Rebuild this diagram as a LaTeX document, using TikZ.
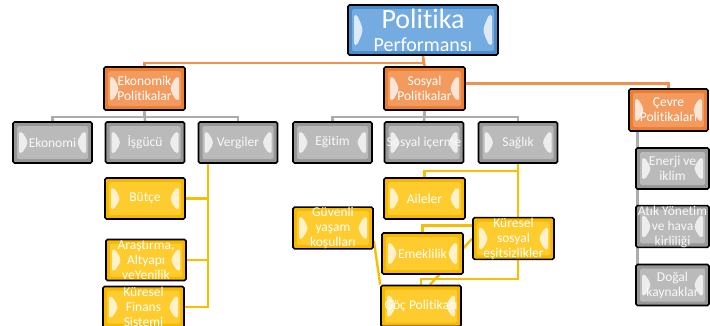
\documentclass[tikz,border=0pt]{standalone}
\usepackage{fontspec}
\setmainfont{Carlito}[Ligatures=NoCommon]
\usetikzlibrary{backgrounds}

\definecolor{turuncu}{HTML}{ED7D31}
\definecolor{turuncuic}{HTML}{F39A5E}
\definecolor{gri}{HTML}{979797}
\definecolor{griic}{HTML}{BABABA}
\definecolor{sari}{HTML}{F7B800}
\definecolor{sariic}{HTML}{FFCC30}
\definecolor{mavi}{HTML}{4A8BCB}
\definecolor{maviic}{HTML}{74ABE0}

\tikzset{
  ic renk/.store in=\icrenk, ic renk=white,
  kutu/.style={draw=black, line width=1.6pt, rounded corners=1.5pt,
    minimum width=79pt, minimum height=41pt, inner xsep=1pt, inner ysep=0pt,
    align=center, text=white, font=\fontsize{13.5}{15}\selectfont,
    path picture={
      \fill[\icrenk] ([shift={(4pt,-4pt)}]path picture bounding box.north west)
        rectangle ([shift={(-4pt,4pt)}]path picture bounding box.south east);
      \fill[white, opacity=0.75] ([shift={(6pt,-10pt)}]path picture bounding box.north west)
        -- ([shift={(9pt,-10pt)}]path picture bounding box.north west)
        .. controls ([xshift=16pt]path picture bounding box.west)
        .. ([shift={(9pt,10pt)}]path picture bounding box.south west)
        -- ([shift={(6pt,10pt)}]path picture bounding box.south west) -- cycle;
      \fill[white, opacity=0.75] ([shift={(-6pt,-10pt)}]path picture bounding box.north east)
        -- ([shift={(-9pt,-10pt)}]path picture bounding box.north east)
        .. controls ([xshift=-16pt]path picture bounding box.east)
        .. ([shift={(-9pt,10pt)}]path picture bounding box.south east)
        -- ([shift={(-6pt,10pt)}]path picture bounding box.south east) -- cycle;
    }},
  grikutu/.style={kutu, fill=gri, ic renk=griic, text=white!95!gray},
  turuncukutu/.style={kutu, fill=turuncu, ic renk=turuncuic},
  sarikutu/.style={kutu, fill=sari, ic renk=sariic},
  mavikutu/.style={kutu, fill=mavi, ic renk=maviic},
  turuncucizgi/.style={line width=2.6pt, turuncu!85!white},
  gricizgi/.style={line width=2.6pt, gri!80!white},
  saricizgi/.style={line width=2.4pt, sari!90!yellow},
}

\begin{document}
\begin{tikzpicture}[x=1pt, y=-1pt]
    \useasboundingbox (0,0) rectangle (710,325);

    % Nodo principal
    \node[mavikutu, minimum width=150pt, minimum height=50pt, font=\fontsize{20}{23}\selectfont] (pp) at (423,30)
      {{\fontsize{28}{28}\selectfont Politika}\\Performansı};

    % Politicas
    \node[turuncukutu, minimum width=81pt, minimum height=43pt] (eko) at (144.5,88.5) {Ekonomik\\Politikalar};
    \node[turuncukutu, minimum width=81pt, minimum height=43pt] (sos) at (424.5,88.5) {Sosyal\\Politikalar};
    \node[turuncukutu, minimum width=79pt, minimum height=42pt] (cev) at (668.5,110) {Çevre\\Politikaları};

    % Fila gris
    \node[grikutu] (ekonomi) at (52.5,142.5) {Ekonomi};
    \node[grikutu] (isgucu) at (145,142.5) {İşgücü};
    \node[grikutu] (vergi) at (238,142.5) {Vergiler};
    \node[grikutu] (egitim) at (332.5,142.5) {Eğitim};
    \node[grikutu] (icerme) at (424,142.5) {Sosyal içerme};
    \node[grikutu] (saglik) at (518,142.5) {Sağlık};

    % Hijos de Cevre
    \node[grikutu, minimum width=73pt] (enerji) at (672.5,168.5) {Enerji ve\\iklim};
    \node[grikutu, minimum width=73pt] (atik) at (672.5,226.5) {Atık Yönetim\\ve hava\\kirliliği};
    \node[grikutu, minimum width=73pt] (dogal) at (672.5,285) {Doğal\\kaynaklar};

    % Hijos de Vergiler
    \node[sarikutu, minimum width=80pt] (butce) at (145,198.5) {Bütçe};
    \node[sarikutu, minimum width=80pt] (arge) at (146,260) {Araştırma,\\Altyapı\\veYenilik};
    \node[sarikutu, minimum width=81pt] (finans) at (143.5,307) {Küresel\\Finans\\Sistemi};

    % Hijos de Saglik
    \node[sarikutu, minimum width=81pt] (aile) at (424.5,198.5) {Aileler};
    \node[sarikutu, minimum width=80pt] (guven) at (333,228) {Güvenli\\yaşam\\koşulları};
    \node[sarikutu, minimum width=81pt] (emekli) at (422.5,253.5) {Emeklilik};
    \node[sarikutu, minimum width=81pt] (kuresel) at (513.5,238.5) {Küresel\\sosyal\\eşitsizlikler};
    \node[sarikutu, minimum width=80pt] (goc) at (421,306) {Göç Politikası};

    \begin{scope}[on background layer]
    % Lineas naranjas
    \draw[turuncucizgi] (pp.south) -- (sos.north);
    \draw[turuncucizgi] (pp.south) -- ++(0,7) -| (eko.north);
    \draw[turuncucizgi] ([yshift=5pt]sos.east) -| (cev.north);

    % Lineas grises
    \draw[gricizgi] (eko.south) -- (isgucu.north);
    \draw[gricizgi] (eko.south) -- ++(0,6) -| (ekonomi.north);
    \draw[gricizgi] (eko.south) -- ++(0,6) -| (vergi.north);
    \draw[gricizgi] (sos.south) -- (icerme.north);
    \draw[gricizgi] (sos.south) -- ++(0,6) -| (egitim.north);
    \draw[gricizgi] (sos.south) -- ++(0,6) -| (saglik.north);
    \draw[gricizgi] ([xshift=9pt]cev.south west) -- ([xshift=9pt]cev.south west |- dogal.north);

    % Lineas amarillas
    \draw[saricizgi] (butce.east) -| ([xshift=10pt]vergi.south west);
    \draw[saricizgi] (arge.east) -| ([xshift=10pt]vergi.south west);
    \draw[saricizgi] (finans.east) -| ([xshift=10pt]vergi.south west);
    \draw[saricizgi] (saglik.south) -- ++(0,7) -| (aile.north);
    \draw[saricizgi] (saglik.south) -- ++(0,115) -| (goc.north);
    \draw[saricizgi] ([yshift=13pt]kuresel.west) -| (emekli.north);
    \draw[saricizgi] (kuresel.west) -- ([xshift=9pt]goc.north);
    \draw[saricizgi] ([yshift=9pt]guven.south east) -- (goc.north west);
    \end{scope}
\end{tikzpicture}
\end{document}
